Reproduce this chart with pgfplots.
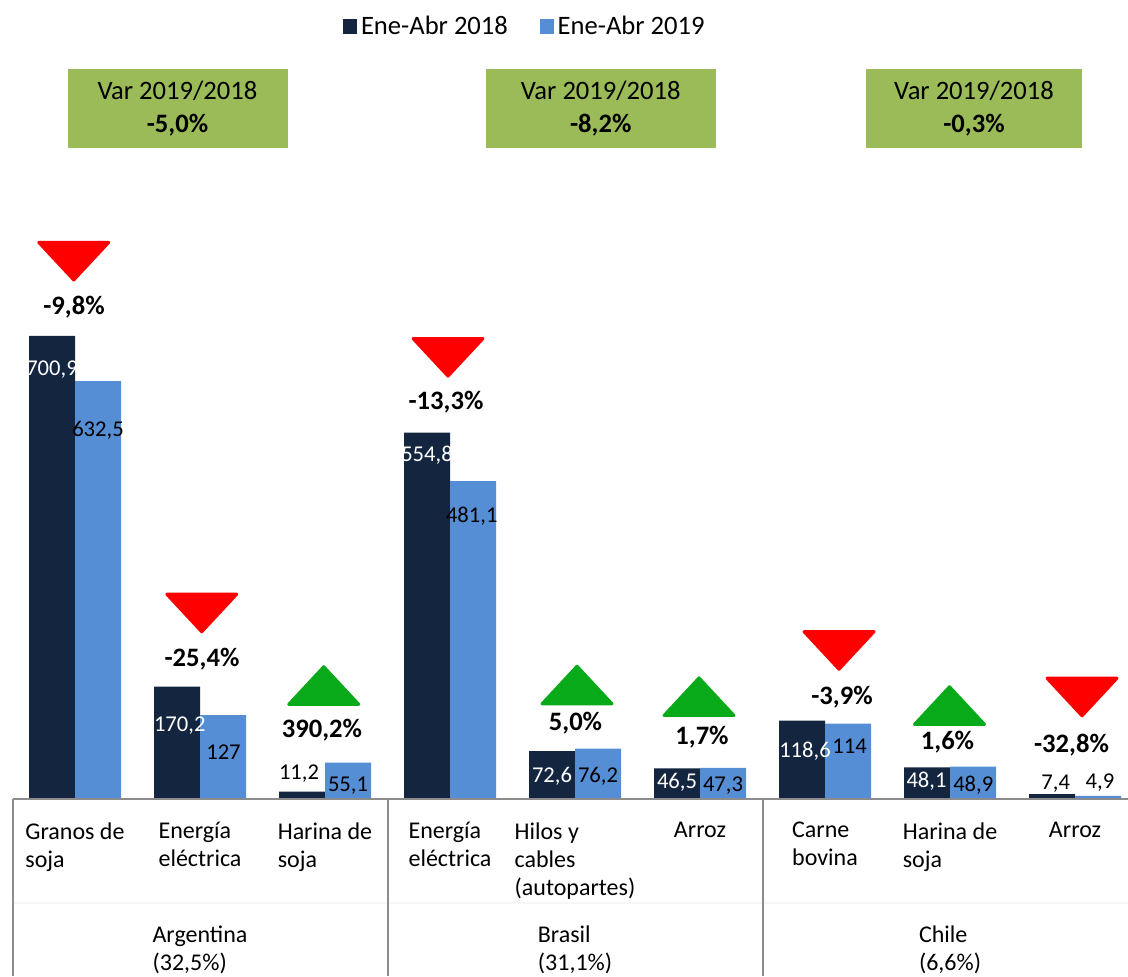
\documentclass[border=0pt]{standalone}
\usepackage{fontspec}
\setmainfont{Carlito}
\usepackage{pgfplots}
\pgfplotsset{compat=1.18}

\definecolor{c18}{RGB}{19,37,63}
\definecolor{c19}{RGB}{85,142,213}
\definecolor{boxgreen}{RGB}{155,187,89}
\definecolor{tred}{RGB}{255,0,0}
\definecolor{tgreen}{RGB}{8,170,26}
\definecolor{gridc}{RGB}{140,140,140}

% flat arrows (width 36.5pt, height ~20pt), centred on their box
\pgfdeclareplotmark{tdown}{%
  \pgfpathmoveto{\pgfqpoint{-17.5pt}{9.4pt}}%
  \pgfpathlineto{\pgfqpoint{17.5pt}{9.4pt}}%
  \pgfpathlineto{\pgfqpoint{0pt}{-9.4pt}}%
  \pgfpathclose
  \pgfusepathqfillstroke}
\pgfdeclareplotmark{tup}{%
  \pgfpathmoveto{\pgfqpoint{-17.5pt}{-9.4pt}}%
  \pgfpathlineto{\pgfqpoint{17.5pt}{-9.4pt}}%
  \pgfpathlineto{\pgfqpoint{0pt}{9.4pt}}%
  \pgfpathclose
  \pgfusepathqfillstroke}

\tikzset{
  cat/.style={anchor=north, align=left, inner sep=0pt, font=\fontsize{12}{14}\selectfont},
  varbox/.style={fill=boxgreen, minimum height=39.5pt, align=center,
    inner sep=0pt, font=\fontsize{13.3}{16.5}\selectfont},
}

\begin{document}
\begin{tikzpicture}
\begin{axis}[
  name=ax,
  width=564pt, height=488pt, scale only axis,
  xmin=-0.6, xmax=8.424, ymin=-267.9, ymax=1209.5,
  hide axis, clip=false,
  legend style={at={(0.4659,0.973)}, anchor=center, legend columns=2,
    draw=none, fill=none, font=\fontsize{13.3}{15}\selectfont,
    nodes={inner xsep=1.8pt},
    /tikz/every even column/.append style={column sep=14pt}},
  legend cell align=left,
]
% bars
\addplot[ybar, bar width=23pt, bar shift=-11.5pt, fill=c18, draw=none,
  legend image code/.code={\fill[c18] (0pt,-3.65pt) rectangle (7.3pt,3.65pt);}]
  table {
x y
0 700.9
1 170.2
2 11.2
3 554.8
4 72.6
5 46.5
6 118.6
7 48.1
8 7.4
};
\addlegendentry{Ene-Abr 2018}
\addplot[ybar, bar width=23pt, bar shift=11.5pt, fill=c19, draw=none,
  legend image code/.code={\fill[c19] (0pt,-3.65pt) rectangle (7.3pt,3.65pt);}]
  table {
x y
0 632.5
1 127
2 55.1
3 481.1
4 76.2
5 47.3
6 114
7 48.9
8 4.9
};
\addlegendentry{Ene-Abr 2019}

% value labels
\addplot[draw=none, mark=none, nodes near coords, point meta=explicit symbolic,
  every node near coord/.append style={anchor=center, text=white,
    font=\fontsize{11.3}{13}\selectfont}]
  table[meta=lab] {
x y lab
-0.184 649.4 700,9
0.838 111.0 170,2
2.816 520.7 554,8
3.816 34.8 72,6
4.816 24.7 46,5
5.840 71.6 118,6
6.812 26.2 48,1
};
\addplot[draw=none, mark=none, nodes near coords, point meta=explicit symbolic,
  every node near coord/.append style={anchor=center, text=black,
    font=\fontsize{11.3}{13}\selectfont}]
  table[meta=lab] {
x y lab
1.792 38.9 11,2
7.846 22.7 7,4
0.184 558.6 632,5
1.188 70.7 127
2.184 19.7 55,1
3.174 428.4 481,1
4.184 33.8 76,2
5.184 20.1 47,3
6.196 80.2 114
7.186 21.2 48,9
8.200 24.2 4,9
};

% variation labels
\addplot[draw=none, mark=none, nodes near coords, point meta=explicit symbolic,
  every node near coord/.append style={anchor=center, text=black,
    font=\fontsize{13.3}{15}\selectfont\bfseries}]
  table[meta=lab] {
x y lab
-0.008 745.2 -9,8\%
1.016 211.9 -25,4\%
1.976 104.5 390,2\%
2.968 601.4 -13,3\%
4.004 115.5 5,0\%
5.016 94.3 1,7\%
6.136 154.9 -3,9\%
6.980 86.7 1,6\%
7.972 81.7 -32,8\%
};

% arrows
\addplot[only marks, color=tred, mark=tdown,
  mark options={fill=tred, draw=tred, line width=1.5pt, line join=round}]
  table {
x y
-0.010 814.1
1.014 281.6
2.984 668.6
6.112 224.9
8.056 154.4
};
\addplot[only marks, color=tgreen, mark=tup,
  mark options={fill=tgreen, draw=tgreen, line width=1.5pt, line join=round}]
  table {
x y
1.990 171.8
4.016 172.6
4.992 154.9
6.996 141.5
};

% table lines
\draw[gray!7, line width=0.8pt] (axis cs:-0.5,-157.4) -- (axis cs:8.424,-157.4);
\draw[gridc, line width=1pt] (axis cs:-0.5,-0.6) -- (axis cs:8.424,-0.6);
\draw[gridc, line width=1pt] (axis cs:-0.5,-0.6) -- (axis cs:-0.5,-267.9);
\draw[gridc, line width=1pt] (axis cs:2.5,-0.6) -- (axis cs:2.5,-267.9);
\draw[gridc, line width=1pt] (axis cs:5.5,-0.6) -- (axis cs:5.5,-267.9);

% category labels
\node[cat] at (axis cs:0,-34.8) {Granos de\\soja};
\node[cat] at (axis cs:1,-34.8) {Energía\\eléctrica};
\node[cat] at (axis cs:2,-34.8) {Harina de\\soja};
\node[cat] at (axis cs:3,-34.8) {Energía\\eléctrica};
\node[cat] at (axis cs:4,-34.8) {Hilos y\\cables\\(autopartes)};
\node[cat] at (axis cs:5,-34.8) {Arroz};
\node[cat] at (axis cs:6,-34.8) {Carne\\bovina};
\node[cat] at (axis cs:7,-34.8) {Harina de\\soja};
\node[cat] at (axis cs:8,-34.8) {Arroz};

% country labels
\node[cat] at (axis cs:1,-190.7) {Argentina\\(32,5\%)};
\node[cat] at (axis cs:4,-190.7) {Brasil\\(31,1\%)};
\node[cat] at (axis cs:7,-190.7) {Chile\\(6,6\%)};

% variation boxes
\node[varbox, minimum width=110pt] at (axis cs:0.82,1045.3) {Var 2019/2018\\\textbf{-5,0\%}};
\node[varbox, minimum width=115pt] at (axis cs:4.206,1045.3) {Var 2019/2018\\\textbf{-8,2\%}};
\node[varbox, minimum width=108pt] at (axis cs:7.192,1045.3) {Var 2019/2018\\\textbf{-0,3\%}};
\end{axis}
\pgfresetboundingbox
\useasboundingbox (ax.south west) rectangle (ax.north east);
\end{tikzpicture}
\end{document}
